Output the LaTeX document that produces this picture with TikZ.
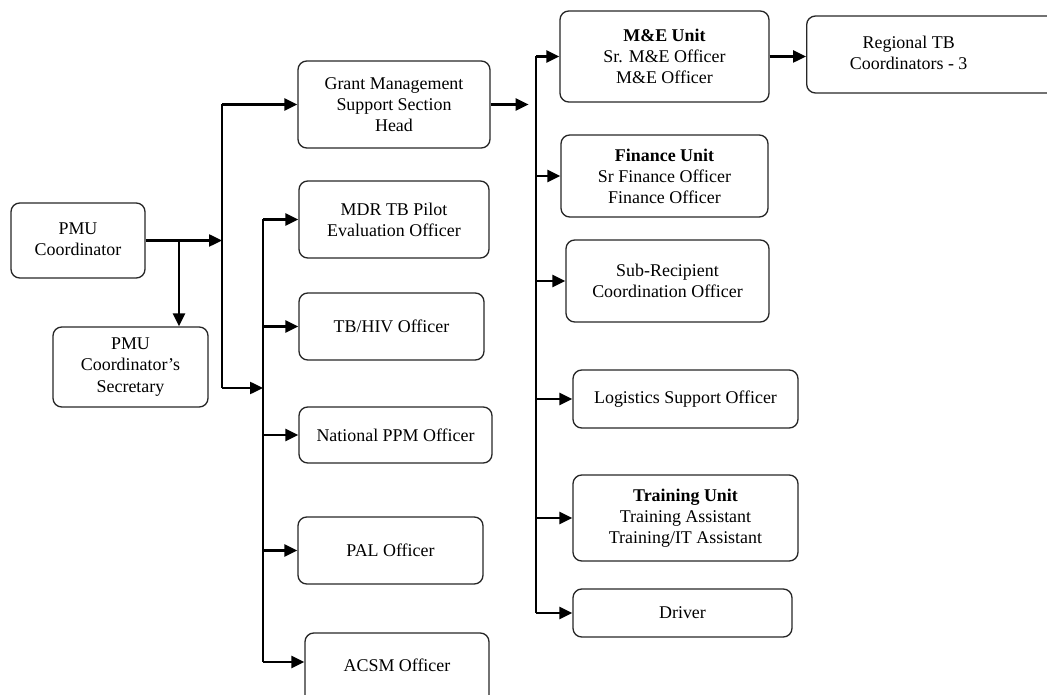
\documentclass[tikz,border=0pt]{standalone}
\usepackage{fontspec}
\setmainfont{Liberation Serif}
\usetikzlibrary{arrows.meta,positioning}
\tikzset{unit/.style={draw=black!85, line width=0.75pt, rounded corners=5pt,
    align=center, inner sep=2pt, font=\fontsize{10.2}{12}\selectfont}}
\tikzset{sz/.style 2 args={minimum width=#1*0.02cm, minimum height=#2*0.02cm}}
\tikzset{feed/.style={line width=1.4pt, -{Triangle[length=0.26cm,width=0.24cm]}}}
\tikzset{trunk/.style={line width=0.8pt}}

\begin{document}
\begin{tikzpicture}[x=0.02cm, y=-0.02cm]
            \useasboundingbox (0,0) rectangle (1047,695);
            \clip (0,0) rectangle (1047,695);
            % left side
            \node[unit, sz={134}{75}] (coord) at (78,240.5)
                {\raisebox{0.16cm}{\begin{tabular}{@{}c@{}}PMU\\Coordinator\end{tabular}}};
            \node[unit, sz={155}{80}] (sec) at (130.5,367) {PMU\\Coordinator's\\Secretary};
            % second column
            \node[unit, sz={192}{87}] (grant) at (394,104.5) {Grant Management\\Support Section\\Head};
            \node[unit, sz={190}{77}] (mdr) at (394,219.5) {MDR TB Pilot\\Evaluation Officer};
            \node[unit, sz={185}{67}] (tbhiv) at (391.5,326.5) {TB/HIV Officer};
            \node[unit, sz={193}{56}] (ppm) at (395.5,435) {National PPM Officer};
            \node[unit, sz={185}{67}] (pal) at (390.5,550.5) {PAL Officer};
            \node[unit, sz={184}{76}] (acsm) at (397,671) {\raisebox{0.22cm}{ACSM Officer}};% cut by the page
            % third column
            \node[unit, sz={209}{91}] (me) at (664.5,56.5) {\textbf{M\&E Unit}\\Sr. M\&E Officer\\M\&E Officer};
            \node[unit, sz={207}{82}] (fin) at (664.5,176) {\textbf{Finance Unit}\\Sr Finance Officer\\Finance Officer};
            \node[unit, sz={203}{82}] (sub) at (667.5,281) {Sub-Recipient\\Coordination Officer};
            \node[unit, sz={225}{58}] (logi) at (685.5,399) {Logistics Support Officer};
            \node[unit, sz={225}{86}] (train) at (685.5,518) {\textbf{Training Unit}\\Training Assistant\\Training/IT Assistant};
            \node[unit, sz={219}{48}] (driver) at (682.5,613) {Driver};
            % far right, runs off the page
            \node[unit, sz={264}{77}, anchor=west] (reg) at (806,54.5)
                {\raisebox{0.16cm}{\begin{tabular}{@{}c@{}}Regional TB\\Coordinators - 3\end{tabular}}\hspace*{1.2cm}};
            % trunk positions
            \coordinate (aX) at (222,0);
            \coordinate (bX) at (263,0);
            \coordinate (cX) at (536,0);
            \coordinate (split) at (179,240.5);
            \coordinate (aBot) at (222,388);
            \coordinate (acsmIn) at ([yshift=0.18cm]acsm.west);
            % coordinator to trunks
            \draw[feed] (coord.east) -- (coord.east -| aX);
            \draw[feed] (split) -- (split |- sec.north);% down to secretary
            \draw[trunk] (grant.west -| aX) -- (aBot);
            \draw[feed] (grant.west -| aX) -- (grant.west);
            \draw[feed] (aBot) -- (aBot -| bX);
            % officers
            \draw[trunk] (mdr.west -| bX) -- (acsmIn -| bX);
            \draw[feed] (mdr.west -| bX) -- (mdr.west);
            \draw[feed] (tbhiv.west -| bX) -- (tbhiv.west);
            \draw[feed] (ppm.west -| bX) -- (ppm.west);
            \draw[feed] (pal.west -| bX) -- (pal.west);
            \draw[feed] (acsmIn -| bX) -- (acsmIn);
            % grant management section
            \draw[feed] (grant.east) -- ++(38,0) coordinate (gmEnd);
            \draw[trunk] (me.west -| cX) -- (driver.west -| cX);
            \draw[feed] (me.west -| cX) -- (me.west);
            \draw[feed] (fin.west -| cX) -- (fin.west);
            \draw[feed] (sub.west -| cX) -- (sub.west);
            \draw[feed] (logi.west -| cX) -- (logi.west);
            \draw[feed] (train.west -| cX) -- (train.west);
            \draw[feed] (driver.west -| cX) -- (driver.west);
            \draw[feed] (me.east) -- (reg.west |- me.east);% to the regions
\end{tikzpicture}
\end{document}
